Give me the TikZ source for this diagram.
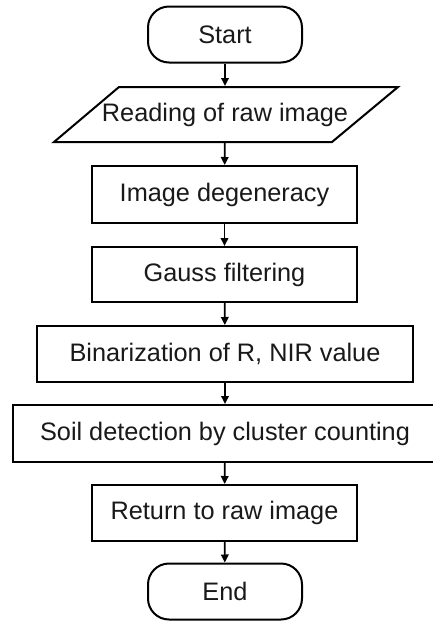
\documentclass[tikz,border=0pt]{standalone}
\usepackage{fontspec}
\setmainfont{Liberation Sans}
\usetikzlibrary{arrows.meta}
\begin{document}
\begin{tikzpicture}[x=1pt,y=-1pt,line width=2pt,
  every node/.style={font=\fontsize{25.3}{30}\selectfont, inner sep=0pt, text=black!90},
  procbox/.style={draw, rectangle, minimum height=56pt},
  termbox/.style={draw, rectangle, rounded corners=21pt, minimum width=154pt, minimum height=56pt},
  flow/.style={-{Triangle[length=8pt,width=7.5pt]}, line width=1.8pt}]
\useasboundingbox (0,0) rectangle (433,622);
\node[termbox] (start) at (225,34.5) {Start};
\draw[line join=miter] (119,87) -- (398,87) -- (332,142) -- (54,142) -- cycle;
\node[minimum width=200pt, minimum height=55pt] (read) at (225,114.5) {Reading of raw image};
\node[procbox, minimum width=265pt, minimum height=57pt] (deg) at (224.5,194.5) {Image degeneracy};
\node[procbox, minimum width=265pt, minimum height=55pt] (gauss) at (224.5,274.5) {Gauss filtering};
\node[procbox, minimum width=376pt] (bin) at (225,354) {Binarization of R, NIR value};
\node[procbox, minimum width=424pt, minimum height=57pt] (soil) at (225,433.5) {Soil detection by cluster counting};
\node[procbox, minimum width=265pt] (ret) at (224.5,513) {Return to raw image};
\node[termbox] (end) at (225,591.5) {End};
\draw[flow] (start) -- (read);
\draw[flow] (read) -- (deg);
\draw[flow] (deg) -- (gauss);
\draw[flow] (gauss) -- (bin);
\draw[flow] (bin) -- (soil);
\draw[flow] (soil) -- (ret);
\draw[flow] (ret) -- (end);
\end{tikzpicture}
\end{document}
